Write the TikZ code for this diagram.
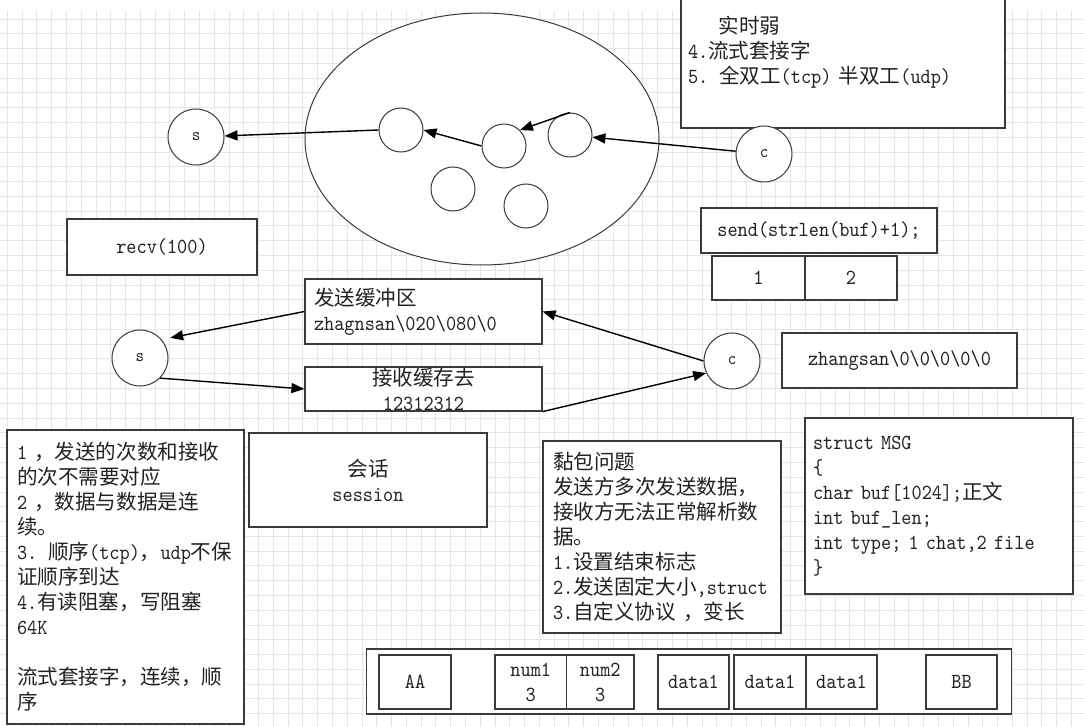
\documentclass[tikz,border=0pt]{standalone}
\usepackage{fontspec}
\setmonofont{lmmono10-regular.otf}[FakeStretch=0.9]
\newfontfamily\cjk{Noto Sans CJK SC}[Scale=0.956]
\usetikzlibrary{arrows.meta,shapes.geometric}
\definecolor{edgec}{HTML}{3A3A3A}
\definecolor{gridc}{HTML}{E5E5E5}
\definecolor{inkc}{HTML}{222222}
\newcommand{\zh}[1]{{\cjk #1}}

\begin{document}
\begin{tikzpicture}[x=1pt,y=-1pt,
  txt/.style={font={\ttfamily\fontsize{21.5}{25}\selectfont}, text=inkc},
  box/.style={txt, draw=edgec, line width=1.2pt, fill=white, inner sep=0pt},
  note/.style={box, align=left},
  cell/.style={box, align=center, minimum height=54pt},
  sock/.style={circle, draw=edgec, line width=1pt, fill=white, minimum size=56pt,
    inner sep=0pt, text=inkc, font={\ttfamily\fontsize{18}{20}\selectfont}},
  slot/.style={circle, draw=edgec, line width=1pt, fill=white, minimum size=44pt, inner sep=0pt},
  flow/.style={-{Triangle[length=13pt,width=10pt]}, line width=1.4pt, black}]
  \clip (0,0) rectangle (1084,727);
  \fill[white] (0,0) rectangle (1084,727);
  % grid paper
  \foreach \k in {0,...,72}
    \draw[gridc, line width=0.9pt] ({7.3+14.78*\k},11) -- ({7.3+14.78*\k},727);
  \foreach \k in {0,...,48}
    \draw[gridc, line width=0.9pt] (0,{19+14.78*\k}) -- (1084,{19+14.78*\k});

  \node[note, text width=310pt, inner xsep=7pt, minimum height=152pt] (props) at (843,52)
    {\phantom{000}\zh{实时弱}\\4.\zh{流式套接字}\\5. \zh{全双工}(tcp) \zh{半双工}(udp)};
  \node[box, minimum width=190pt, minimum height=56pt] (recv) at (162,247) {recv(100)};

  % connection pool
  \node[ellipse, draw=edgec, line width=1pt, fill=white, minimum width=354pt,
    minimum height=252pt, inner sep=0pt] (pool) at (482,139) {};
  \node[sock] (s1) at (196,137) {s};
  \node[slot] (qa) at (401,130) {};
  \node[slot] (qb) at (504,146) {};
  \node[slot] (qc) at (570,135) {};
  \node[slot] (qd) at (453,189) {};
  \node[slot] (qe) at (526,206) {};
  \node[sock] (c1) at (764,154) {c};
  \draw[flow] (c1) -- (qc);
  \draw[flow] (qc.north) -- (qb.north east);
  \draw[flow] (qb.west) -- (qa.east);
  \draw[flow] (qa.west) -- (s1);

  \node[box, minimum width=236pt, minimum height=45pt] (sendcall) at (819,230.5) {send(strlen(buf)+1);};
  \node[box, minimum width=93pt, minimum height=44pt] (one) at (758.5,278) {1};
  \node[box, minimum width=92pt, minimum height=44pt] (two) at (851,278) {2};

  % buffers
  \node[note, text width=219pt, inner xsep=9pt, minimum height=65pt] (sbuf) at (423.5,311.5)
    {\zh{发送缓冲区}\\zhagnsan\textbackslash020\textbackslash080\textbackslash0};
  \node[box, align=center, minimum width=237pt, minimum height=44pt] (rbuf) at (423.5,389)
    {\zh{接收缓存去}\\12312312};
  \node[sock] (s2) at (140,358) {s};
  \node[sock] (c2) at (732,361) {c};
  \node[box, minimum width=235pt, minimum height=55pt] (zbuf) at (899.5,360.5)
    {zhangsan\textbackslash0\textbackslash0\textbackslash0\textbackslash0\textbackslash0};
  \draw[flow] (sbuf.west) -- ([xshift=10pt]s2.north east);
  \draw[flow] (s2.south east) -- (rbuf.west);
  \draw[flow] (c2.west) -- (sbuf.east);
  \draw[flow] (rbuf.south east) -- (c2.205);

  % notes
  \node[note, text width=217pt, inner xsep=10pt, minimum height=294pt] (stream) at (125.5,577)
    {1 \zh{，发送的次数和接收}\\\zh{的次不需要对应}\\2 \zh{，数据与数据是连}\\\zh{续。}\\
     3. \zh{顺序}(tcp)\zh{，}udp\zh{不保}\\\zh{证顺序到达}\\4.\zh{有读阻塞，写阻塞}\\64K\\[25pt]
     \zh{流式套接字，连续，顺}\\\zh{序}};
  \node[box, align=center, minimum width=238pt, minimum height=94pt] (session) at (368,480)
    {\zh{会话}\\session};
  \node[note, text width=218pt, inner xsep=10pt, minimum height=192pt] (sticky) at (662,537)
    {\zh{黏包问题}\\\zh{发送方多次发送数据，}\\\zh{接收方无法正常解析数}\\\zh{据。}\\
     1.\zh{设置结束标志}\\2.\zh{发送固定大小},struct\\3.\zh{自定义协议} \zh{，变长}};
  \node[note, text width=252pt, inner xsep=8pt, minimum height=176pt] (msg) at (939,506)
    {struct MSG\\\{\\char buf[1024];\zh{正文}\\int buf\_len;\\int type; 1 chat,2 file\\\}};

  % packet layout
  \node[box, minimum width=645pt, minimum height=65pt] (packet) at (689.3,681.5) {};
  \node[cell, minimum width=72pt] (aa) at (415,682) {AA};
  \node[cell, minimum width=71.6pt] (n1) at (530.8,682) {num1\\3};
  \node[cell, minimum width=67.4pt] (n2) at (600.3,682) {num2\\3};
  \node[cell, minimum width=71pt] (d1) at (693.5,682) {data1};
  \node[cell, minimum width=72pt] (d2) at (770,682) {data1};
  \node[cell, minimum width=71pt] (d3) at (841.5,682) {data1};
  \node[cell, minimum width=71pt] (bb) at (961.5,682) {BB};
\end{tikzpicture}
\end{document}
